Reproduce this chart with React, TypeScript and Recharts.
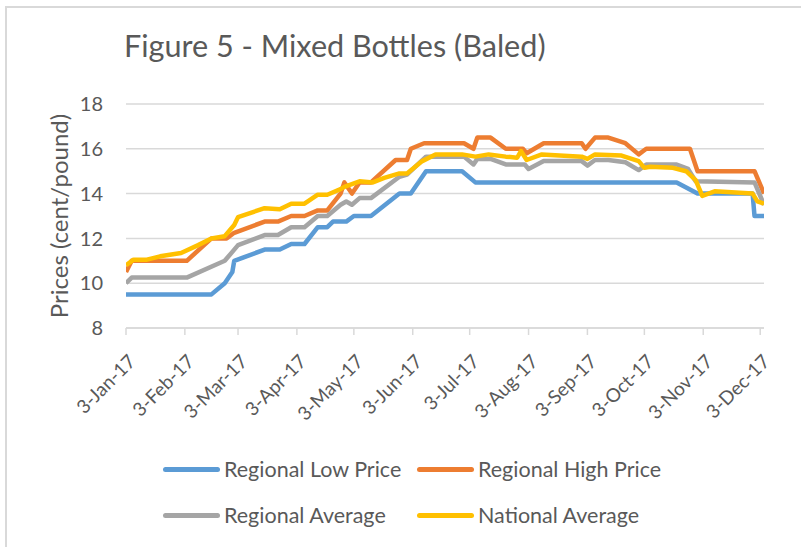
import { CartesianGrid, Line, LineChart, XAxis, YAxis } from 'recharts'

// days counted from 3-Jan-17
const tickDays = [0, 31, 59, 90, 120, 151, 181, 212, 243, 273, 304, 334]
const tickLabels = [
  '3-Jan-17', '3-Feb-17', '3-Mar-17', '3-Apr-17', '3-May-17', '3-Jun-17',
  '3-Jul-17', '3-Aug-17', '3-Sep-17', '3-Oct-17', '3-Nov-17', '3-Dec-17',
]
const yTicks = [8, 10, 12, 14, 16, 18]

const lowDays = [0, 45, 52, 56, 57, 73, 81, 87, 94, 101, 106, 109, 116, 120, 129, 144, 150, 158, 177, 184, 290, 301, 330, 331, 336]
const lowValues = [9.5, 9.5, 10, 10.5, 11, 11.5, 11.5, 11.75, 11.75, 12.5, 12.5, 12.75, 12.75, 13, 13, 14, 14, 15, 15, 14.5, 14.5, 14, 14, 13, 13]

const highDays = [0, 3, 32, 45, 53, 57, 73, 80, 87, 94, 101, 106, 113, 115, 119, 123, 129, 142, 148, 150, 157, 178, 183, 185, 192, 200, 209, 211, 220, 240, 242, 247, 254, 263, 270, 274, 297, 301, 331, 336]
const highValues = [10.5, 11, 11, 12, 12, 12.25, 12.75, 12.75, 13, 13, 13.25, 13.25, 14, 14.5, 14, 14.5, 14.5, 15.5, 15.5, 16, 16.25, 16.25, 16, 16.5, 16.5, 16, 16, 15.8, 16.25, 16.25, 16, 16.5, 16.5, 16.25, 15.75, 16, 16, 15, 15, 14]

const avgDays = [0, 3, 32, 52, 56, 59, 73, 80, 87, 94, 101, 106, 113, 116, 119, 123, 129, 144, 148, 158, 178, 183, 185, 192, 200, 210, 212, 220, 240, 243, 247, 254, 263, 270, 274, 290, 296, 300, 331, 336]
const avgValues = [10, 10.25, 10.25, 11, 11.4, 11.7, 12.15, 12.15, 12.5, 12.5, 13, 13, 13.5, 13.65, 13.5, 13.8, 13.8, 14.75, 14.85, 15.65, 15.65, 15.3, 15.55, 15.55, 15.3, 15.3, 15.1, 15.45, 15.45, 15.25, 15.5, 15.5, 15.4, 15.05, 15.3, 15.3, 15.1, 14.55, 14.5, 13.5]

const natDays = [0, 4, 11, 18, 29, 38, 45, 52, 57, 59, 73, 81, 87, 94, 101, 106, 113, 115, 123, 130, 136, 144, 148, 156, 163, 177, 184, 191, 200, 206, 208, 211, 219, 240, 243, 247, 261, 270, 273, 276, 288, 295, 300, 303.5, 310, 330, 332.5, 336]
const natValues = [10.8, 11.05, 11.05, 11.2, 11.35, 11.7, 12, 12.1, 12.6, 12.95, 13.35, 13.3, 13.55, 13.55, 13.95, 13.95, 14.2, 14.3, 14.55, 14.5, 14.7, 14.9, 14.9, 15.45, 15.75, 15.75, 15.65, 15.75, 15.65, 15.6, 15.9, 15.5, 15.75, 15.65, 15.55, 15.75, 15.7, 15.45, 15.15, 15.2, 15.15, 15, 14.6, 13.9, 14.1, 14, 13.65, 13.55]

const pairs = (days: number[], values: number[]) => days.map((day, i) => ({ day, v: values[i] }))

const series = [
  { name: 'Regional Low Price', color: '#5B9BD5', data: pairs(lowDays, lowValues) },
  { name: 'Regional High Price', color: '#ED7D31', data: pairs(highDays, highValues) },
  { name: 'Regional Average', color: '#A5A5A5', data: pairs(avgDays, avgValues) },
  { name: 'National Average', color: '#FFC000', data: pairs(natDays, natValues) },
]

const FONT = 'Lato, "Open Sans", sans-serif'
const TEXT = '#595959'

function DateTick({ x, y, payload }: { x: number; y: number; payload: { value: number } }) {
  const i = tickDays.indexOf(payload.value)
  const tx = x
  const ty = y + 15
  return (
    <text
      x={tx}
      y={ty}
      transform={`rotate(-45, ${tx}, ${ty})`}
      textAnchor="end"
      dominantBaseline="hanging"
      fill={TEXT}
      fontSize={19}
      fontFamily={FONT}
    >
      {tickLabels[i]}
    </text>
  )
}

function LegendItem({ left, top, color, label }: { left: number; top: number; color: string; label: string }) {
  return (
    <div style={{ position: 'absolute', left, top, display: 'flex', alignItems: 'center' }}>
      <div style={{ width: 57, height: 5, borderRadius: 3, background: color, marginRight: 4 }} />
      <span style={{ fontSize: 21.5, color: TEXT, fontFamily: FONT, lineHeight: '24px' }}>{label}</span>
    </div>
  )
}

export default function App() {
  return (
    <div style={{ position: 'absolute', left: 0, top: 0, width: 801, height: 547, background: '#fff', overflow: 'hidden' }}>
      <div
        style={{
          position: 'absolute',
          left: 5,
          top: 6,
          width: 810,
          height: 560,
          borderTop: '2px solid #d9d9d9',
          borderLeft: '2px solid #d9d9d9',
        }}
      />
      <div
        style={{
          position: 'absolute',
          left: 124,
          top: 26,
          fontSize: 30.6,
          color: TEXT,
          fontFamily: FONT,
          whiteSpace: 'nowrap',
          lineHeight: '40px',
        }}
      >
        Figure 5 - Mixed Bottles (Baled)
      </div>
      <div style={{ position: 'absolute', left: 0, top: 0 }}>
        <LineChart width={801} height={547} margin={{ top: 104, right: 37, bottom: 0, left: 0 }}>
          <CartesianGrid horizontal vertical={false} stroke="#d9d9d9" strokeWidth={1.5} />
          <XAxis
            dataKey="day"
            type="number"
            domain={[0, 336]}
            ticks={tickDays}
            interval={0}
            allowDataOverflow
            stroke="#d9d9d9"
            strokeWidth={1.5}
            tickSize={7}
            tick={DateTick}
            height={219}
          />
          <YAxis
            type="number"
            domain={[8, 18]}
            ticks={yTicks}
            width={126}
            axisLine={false}
            tickLine={false}
            tickMargin={17}
            tick={{ fill: TEXT, fontSize: 20, fontFamily: FONT }}
            label={{
              value: 'Prices (cent/pound)',
              angle: -90,
              position: 'insideLeft',
              offset: 59,
              style: { fill: TEXT, fontSize: 24, fontFamily: FONT, textAnchor: 'middle' },
            }}
          />
          {series.map((s) => (
            <Line
              key={s.name}
              data={s.data}
              dataKey="v"
              name={s.name}
              type="linear"
              stroke={s.color}
              strokeWidth={4.5}
              strokeLinejoin="round"
              dot={false}
              activeDot={false}
              isAnimationActive={false}
            />
          ))}
        </LineChart>
      </div>
      <LegendItem left={163} top={457} color={series[0].color} label={series[0].name} />
      <LegendItem left={417} top={457} color={series[1].color} label={series[1].name} />
      <LegendItem left={163} top={503} color={series[2].color} label={series[2].name} />
      <LegendItem left={417} top={503} color={series[3].color} label={series[3].name} />
    </div>
  )
}
